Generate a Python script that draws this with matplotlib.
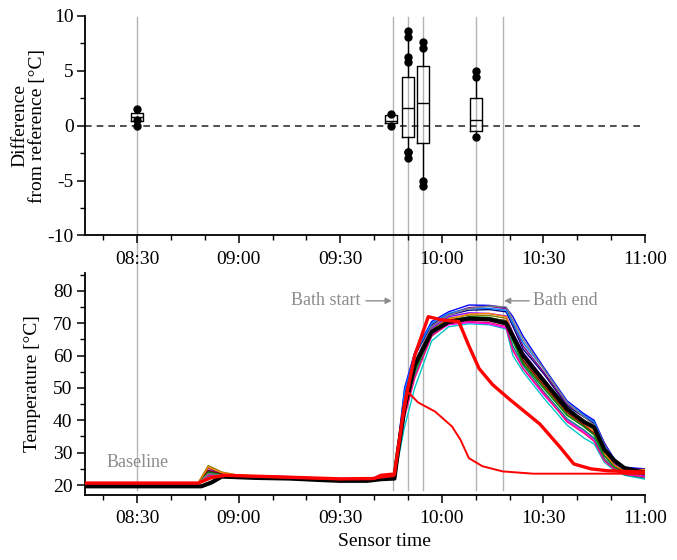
import numpy as np
import matplotlib.pyplot as plt
from matplotlib.lines import Line2D
from matplotlib.ticker import MultipleLocator, FuncFormatter
from matplotlib.transforms import blended_transform_factory

plt.rcParams['font.family'] = ['Liberation Serif', 'DejaVu Serif']
plt.rcParams['axes.unicode_minus'] = False


def to_min(hhmm):
    # "HH:MM" -> minutes since midnight (fractional minutes allowed)
    h, m = hhmm.split(":")
    return int(h) * 60 + float(m)


def fmt_clock(v, pos=None):
    v = int(round(v))
    return f"{v // 60:02d}:{v % 60:02d}"


# ---- top panel: difference from reference, box statistics ----
box_times = ["08:30", "09:45", "09:50", "09:54.5", "10:10"]
box_q1 = [0.42, 0.21, -1.03, -1.58, -0.52]
box_med = [0.80, 0.45, 1.58, 2.06, 0.48]
box_q3 = [1.15, 0.97, 4.45, 5.40, 2.48]
box_whislo = [0.42, 0.21, -2.40, -5.00, -1.00]
box_whishi = [1.15, 0.97, 8.10, 7.06, 4.50]
box_fliers = [
    [0.0, 0.55, 1.5],
    [0.0, 1.06],
    [-2.4, -2.4, -2.9, 5.8, 6.3, 8.1, 8.6],
    [-5.0, -5.45, 7.06, 7.6],
    [-1.0, 4.48, 5.03],
]

# event markers (vertical grey lines)
event_times = ["08:30", "09:45.5", "09:50", "09:54.5", "10:10", "10:18"]

# ---- bottom panel: sensor temperatures ----
grid_times = ["08:15", "08:48", "08:51", "08:55", "09:00", "09:15", "09:30",
              "09:40", "09:46", "09:49", "09:52", "09:57", "10:02", "10:08",
              "10:14", "10:19", "10:21", "10:24", "10:30", "10:37", "10:42",
              "10:45", "10:48", "10:51", "10:54", "11:00"]

s_blue = [20.5, 20.5, 24.5, 23.3, 22.9, 22.6, 21.8, 22.3, 22.8, 50, 61, 70.5, 73.5, 75.6, 75.5, 74.8, 72, 66, 56.5, 46, 42, 40, 33, 28, 25.5, 25.0]
s_cyan = [20.3, 20.3, 22.0, 22.6, 22.6, 22.2, 21.2, 21.6, 22.0, 38, 50, 64.5, 68.9, 69.8, 69.5, 68.2, 60, 55, 47, 38.5, 34.5, 32.7, 27, 24.5, 23.0, 21.8]
s_magenta = [20.5, 20.5, 23.5, 23.0, 22.8, 22.4, 21.6, 22.1, 22.6, 44, 56, 66.5, 69.5, 70.2, 69.8, 68.5, 62, 56, 48, 40, 36.5, 34, 28, 25, 23.5, 22.8]
s_olive = [20.6, 20.6, 26.0, 24.0, 23.0, 22.5, 21.0, 22.0, 22.5, 45, 57, 68, 71.5, 72.5, 72.4, 71.5, 66, 58, 50.5, 42, 38, 35.5, 29, 26, 24.5, 24.5]
s_navy = [20.4, 20.4, 24.0, 23.2, 22.9, 22.5, 21.7, 22.2, 22.7, 48, 60, 69.5, 72.5, 74, 74.2, 73.5, 69, 62, 54.5, 44.5, 41, 39, 32, 27, 24.8, 23.5]
s_violet = [20.5, 20.5, 23.8, 23.1, 22.8, 22.4, 21.6, 22.1, 22.6, 47, 58, 68.5, 72.0, 73.2, 73.0, 72.2, 67, 61, 53, 43.5, 40, 37.5, 31, 26.5, 24.2, 23.0]
s_purple = [20.5, 20.5, 25.2, 23.5, 22.9, 22.5, 21.5, 22.2, 22.8, 46, 58, 69, 72.8, 74.8, 75.2, 74.5, 70, 63, 55, 45, 41.5, 39.5, 33, 27.5, 25.2, 24.8]
s_wine = [20.6, 20.6, 24.5, 23.3, 22.7, 22.3, 21.4, 22.0, 22.4, 45, 57, 67.5, 71, 71.8, 71.5, 70.8, 65, 58.5, 51, 42.5, 38.5, 36, 30, 26, 24, 24.2]
s_darkcyan = [20.3, 20.3, 22.5, 22.8, 22.6, 22.2, 21.1, 21.8, 22.2, 42, 54, 66, 70, 71, 70.8, 69.5, 63, 57, 49, 40.5, 37, 34.5, 28, 25, 23.2, 22.2]
s_royal = [20.4, 20.4, 23.2, 23.0, 22.8, 22.4, 21.6, 22.0, 22.6, 49, 60.5, 70, 73, 74.5, 74.6, 74.0, 70, 64, 56, 45.5, 41.5, 39.5, 32.5, 27.5, 25.0, 23.6]
s_orange = [20.6, 20.6, 25.5, 23.8, 23.0, 22.5, 21.3, 22.1, 22.6, 44, 56, 67.5, 71.2, 72.8, 73, 72.0, 66.5, 59.5, 51.5, 43, 39, 36.5, 30, 26, 24.5, 24.8]
s_green = [20.5, 20.5, 24.0, 23.2, 22.8, 22.4, 21.5, 22.0, 22.5, 43, 55, 67, 70.8, 72, 71.8, 70.5, 64.5, 57.5, 50, 41.5, 38, 35.5, 29, 25.5, 23.8, 23.2]
s_pink = [20.5, 20.5, 23.0, 22.9, 22.7, 22.3, 21.4, 21.9, 22.4, 41, 53, 66, 69.8, 70.5, 70.2, 69.0, 61.5, 56, 48.5, 39.5, 36, 33.5, 27.5, 24.8, 23.3, 22.5]
s_grey = [20.5, 20.5, 23.5, 23.0, 22.7, 22.3, 21.5, 22.0, 22.5, 46, 58, 69, 72.5, 74.5, 75.3, 75.0, 71, 65, 56, 45.5, 41, 38.5, 32, 27, 24.5, 24.0]

sensors = [s_blue, s_cyan, s_magenta, s_olive, s_navy, s_violet, s_purple,
           s_wine, s_darkcyan, s_royal, s_orange, s_green, s_pink, s_grey]
sensor_colors = ["#0000FF", "#00C8C8", "#FF00FF", "#808000", "#000080", "#8000FF",
                 "#800080", "#800000", "#008080", "#0080FF", "#FF8000", "#008000",
                 "#FF0080", "#808080"]

# reference probe (thick black)
ref_times = ["08:15", "08:49", "08:52", "08:55", "09:05", "09:15", "09:25", "09:30",
             "09:38", "09:42", "09:46", "09:47", "09:49", "09:52", "09:57", "10:02",
             "10:08", "10:14", "10:19", "10:21", "10:24", "10:30", "10:37", "10:42",
             "10:45", "10:48", "10:51", "10:54", "11:00"]
ref_temps = [19.6, 19.6, 20.8, 22.6, 22.2, 22.0, 21.5, 21.3, 21.3, 21.8, 22.0, 30,
             44, 57, 67.3, 70.4, 71.4, 71.2, 70.0, 66, 60, 52.3, 43.5, 39.5, 37.8,
             31, 27.5, 25.2, 23.8]

# outlier sensor, thick red
red1_times = ["08:15", "08:48", "08:52", "08:56", "09:15", "09:30", "09:40", "09:42",
              "09:46", "09:49", "09:52", "09:56", "10:00", "10:05", "10:08", "10:11",
              "10:15", "10:20", "10:29", "10:35", "10:39", "10:44", "10:49", "11:00"]
red1_temps = [20.6, 20.6, 22.3, 23.0, 22.4, 21.9, 22.0, 23.0, 23.4, 45, 60, 72, 71,
              70.5, 63, 56, 51, 46.5, 38.8, 31.6, 26.5, 25.0, 24.4, 24.0]

# outlier sensor, thin red
red2_times = ["08:15", "08:48", "08:52", "08:56", "09:15", "09:30", "09:40", "09:46",
              "09:48", "09:50", "09:53", "09:58", "10:03", "10:05.5", "10:08", "10:12",
              "10:18", "10:27", "11:00"]
red2_temps = [20.5, 20.5, 22.5, 22.9, 22.3, 21.8, 22.0, 22.8, 38, 48.7, 45.5, 42.7,
              38.1, 34, 28.3, 25.8, 24.2, 23.5, 23.5]

grey_txt = "#8c8c8c"
x_lo, x_hi = to_min("08:14.6"), to_min("11:00")

fig = plt.figure(figsize=(6.77, 5.6), dpi=100)
ax1 = fig.add_axes([0.1256, 0.5795, 0.827, 0.392])
ax2 = fig.add_axes([0.1256, 0.116, 0.827, 0.3965])

# ---- top panel ----
stats = []
for i in range(len(box_times)):
    stats.append({"med": box_med[i], "q1": box_q1[i], "q3": box_q3[i],
                  "whislo": box_whislo[i], "whishi": box_whishi[i],
                  "fliers": box_fliers[i]})
box_pos = [to_min(t) for t in box_times]
ax1.bxp(stats, positions=box_pos, widths=3.5, showcaps=False, manage_ticks=False,
        boxprops=dict(color="black", lw=1.0),
        medianprops=dict(color="black", lw=1.0),
        whiskerprops=dict(color="black", lw=1.0),
        flierprops=dict(marker="o", markerfacecolor="black", markeredgecolor="black",
                        markersize=5))
ax1.axhline(0, color="#333333", lw=1.2, ls=(0, (4, 3)), zorder=1)
ax1.set_ylim(-10, 10)
ax1.yaxis.set_major_locator(MultipleLocator(5))
ax1.yaxis.set_minor_locator(MultipleLocator(2.5))
ax1.set_ylabel("Difference\nfrom reference [°C]", fontsize=14, linespacing=1.05)
ax1.yaxis.set_label_coords(-0.070, 0.5)

# ---- bottom panel ----
gx = [to_min(t) for t in grid_times]
for vals, col in zip(sensors, sensor_colors):
    ax2.plot(gx, vals, color=col, lw=1.0, zorder=2)
ax2.plot([to_min(t) for t in ref_times], ref_temps, color="black", lw=3.0, zorder=3)
ax2.plot([to_min(t) for t in red2_times], red2_temps, color="#FF0000", lw=1.4, zorder=4)
ax2.plot([to_min(t) for t in red1_times], red1_temps, color="#FF0000", lw=2.4, zorder=4)
ax2.set_ylim(16.9, 85.5)
ax2.yaxis.set_major_locator(MultipleLocator(10))
ax2.yaxis.set_minor_locator(MultipleLocator(5))
ax2.set_ylabel("Temperature [°C]", fontsize=14)
ax2.yaxis.set_label_coords(-0.078, 0.5)
ax2.set_xlabel("Sensor time", fontsize=14)
ax2.xaxis.set_label_coords(0.535, -0.17)

ax2.text(to_min("08:30"), 26.9, "Baseline", color=grey_txt, fontsize=13,
         ha="center", va="center")
ax2.text(to_min("09:36"), 76.9, "Bath start", color=grey_txt, fontsize=13,
         ha="right", va="center")
ax2.annotate("", xy=(to_min("09:45.2"), 76.9), xytext=(to_min("09:37.6"), 76.9),
             arrowprops=dict(arrowstyle="-|>", color=grey_txt, lw=1.0,
                             mutation_scale=9, shrinkA=0, shrinkB=0))
ax2.text(to_min("10:26.8"), 76.9, "Bath end", color=grey_txt, fontsize=13,
         ha="left", va="center")
ax2.annotate("", xy=(to_min("10:18.4"), 76.9), xytext=(to_min("10:25.8"), 76.9),
             arrowprops=dict(arrowstyle="-|>", color=grey_txt, lw=1.0,
                             mutation_scale=9, shrinkA=0, shrinkB=0))

# ---- shared axis styling ----
for ax in (ax1, ax2):
    ax.set_facecolor("none")
    ax.set_xlim(x_lo, x_hi)
    ax.xaxis.set_major_locator(MultipleLocator(30))
    ax.xaxis.set_minor_locator(MultipleLocator(10))
    ax.xaxis.set_major_formatter(FuncFormatter(fmt_clock))
    for side in ("top", "right"):
        ax.spines[side].set_visible(False)
    for side in ("left", "bottom"):
        ax.spines[side].set_linewidth(1.3)
    ax.tick_params(which="major", direction="out", length=6, width=1.1,
                   labelsize=14)
    ax.tick_params(which="minor", direction="out", length=3.5, width=1.0)
ax1.tick_params(axis="x", which="major", pad=5)
ax2.tick_params(axis="x", which="major", pad=5)
ax1.tick_params(axis="y", which="major", pad=2)
ax2.tick_params(axis="y", which="major", pad=3)

# grey event lines running through both panels
trans = blended_transform_factory(ax2.transData, fig.transFigure)
for t in event_times:
    x = to_min(t)
    fig.add_artist(Line2D([x, x], [0.125, 0.970], transform=trans,
                          color="#b4b4b4", lw=1.0, zorder=-1))

fig.savefig("out.png", dpi=100)
